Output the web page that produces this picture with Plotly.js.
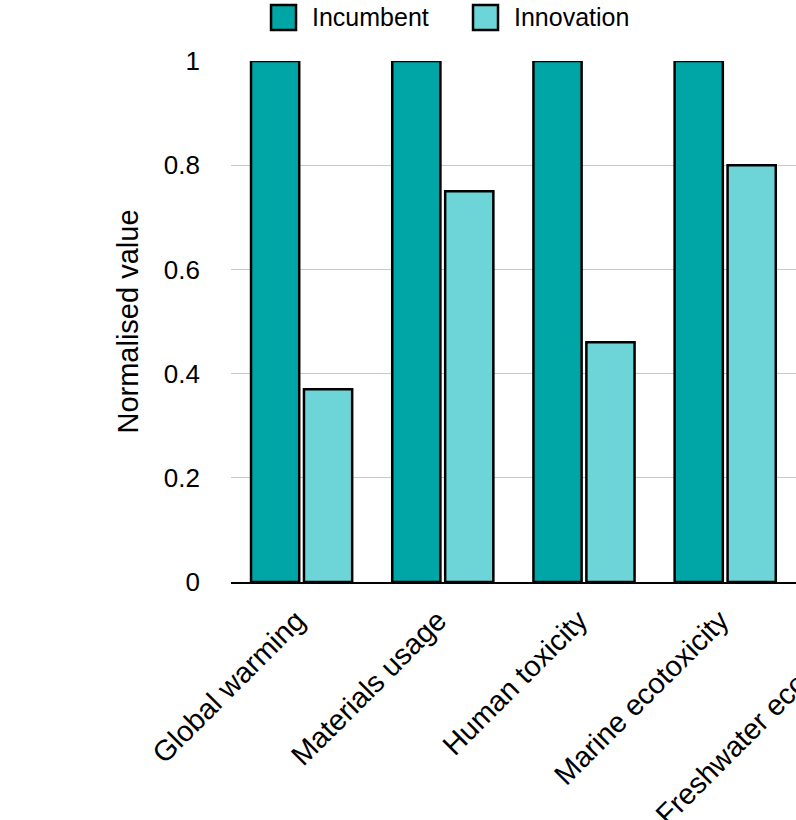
<!DOCTYPE html>
<html>
<head>
<meta charset="utf-8">
<script src="https://cdn.plot.ly/plotly-3.0.1.min.js"></script>
<style>
html,body{margin:0;padding:0;overflow:hidden;background:#fff;}
#chart{width:960px;height:820px;}
</style>
</head>
<body>
<div id="chart"></div>
<script>
const categories = ["Global warming", "Materials usage", "Human toxicity", "Marine ecotoxicity", "Freshwater ecotoxicity"];
const incumbent = [1, 1, 1, 1, 1];
const innovation = [0.37, 0.75, 0.46, 0.80, 0.55];
const seriesNames = ["Incumbent", "Innovation"];
const seriesColors = ["#00A6A6", "#6DD5D8"];
const yTicks = [0, 0.2, 0.4, 0.6, 0.8, 1];
const yTickLabels = ["0", "0.2", "0.4", "0.6", "0.8", "1"];

const FONT = "Liberation Sans, Arial, Helvetica, sans-serif";

const traces = [
  {type: "bar", name: seriesNames[0], x: categories, y: incumbent,
   marker: {color: seriesColors[0], line: {color: "#000", width: 2.5}}},
  {type: "bar", name: seriesNames[1], x: categories, y: innovation,
   marker: {color: seriesColors[1], line: {color: "#000", width: 2.5}}}
];

// custom legend (large square swatches), placed in paper coordinates
const legX = [0.0567, 0.3428];
const swW = 0.0354, swY0 = 1.0595, swY1 = 1.1075;
const shapes = legX.map((x0, i) => ({
  type: "rect", xref: "paper", yref: "paper", x0: x0, x1: x0 + swW, y0: swY0, y1: swY1,
  fillcolor: seriesColors[i], line: {color: "#000", width: 2.5}
}));
const annotations = legX.map((x0, i) => ({
  xref: "paper", yref: "paper", x: x0 + swW + 0.0195, y: 1.0845, xanchor: "left", yanchor: "middle",
  text: seriesNames[i], showarrow: false, font: {family: FONT, size: 25, color: "#000"}
}));

const layout = {
  width: 960, height: 820,
  margin: {l: 231, r: 23, t: 61, b: 238},
  paper_bgcolor: "#fff", plot_bgcolor: "#fff",
  font: {family: FONT, size: 25, color: "#000"},
  barmode: "group", bargap: 0.25, bargroupgap: 0.09,
  showlegend: false,
  shapes: shapes,
  annotations: annotations,
  xaxis: {type: "category", tickangle: -45, showline: true, linecolor: "#000", linewidth: 2,
          showgrid: false, ticks: "", tickfont: {family: FONT, size: 29},
          ticklabelstandoff: 8, ticklabelshift: -5},
  yaxis: {range: [0, 1], tickvals: yTicks, ticktext: yTickLabels, showgrid: true,
          gridcolor: "#c8c8c8", gridwidth: 1, zeroline: false, showline: false, ticks: "",
          ticklabelstandoff: 30, tickfont: {family: FONT, size: 26},
          title: {text: "Normalised value", font: {family: FONT, size: 29}, standoff: 16}}
};

Plotly.newPlot("chart", traces, layout, {displayModeBar: false, staticPlot: true});
</script>
</body>
</html>
